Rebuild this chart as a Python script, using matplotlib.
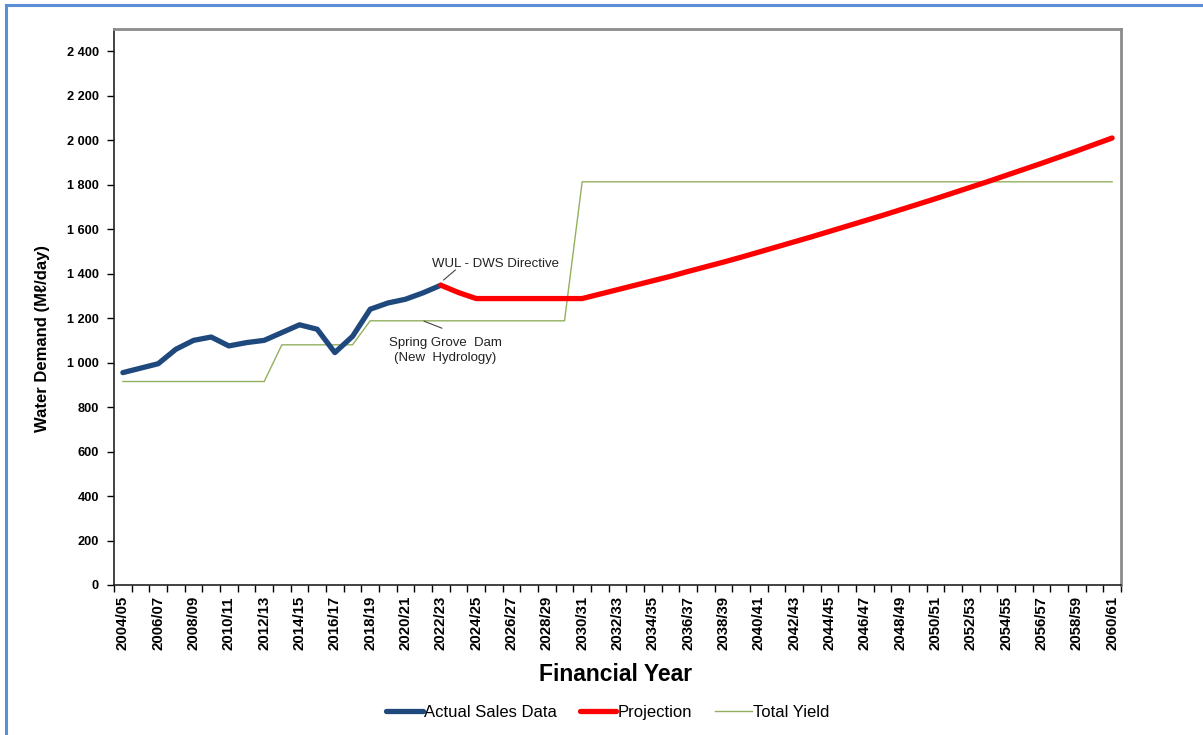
import numpy as np
import matplotlib
matplotlib.use('Agg')
import matplotlib.pyplot as plt
from matplotlib.lines import Line2D
from matplotlib.ticker import FuncFormatter, FixedLocator

plt.rcParams['font.family'] = ['Liberation Sans', 'DejaVu Sans']

#financial years 2004/05 .. 2060/61
years = [f"{y}/{(y + 1) % 100:02d}" for y in range(2004, 2061)]

#actual sales 2004/05 .. 2022/23
actual = [955, 975, 995, 1060, 1100, 1115, 1075, 1090, 1100, 1135,
          1170, 1150, 1045, 1118, 1240, 1268, 1285, 1314, 1348]

#projection 2022/23 .. 2060/61
projection = [1348, 1315, 1288, 1288, 1288, 1288, 1288, 1288, 1288,
              1308, 1328, 1348, 1368, 1388, 1410, 1431, 1452, 1474, 1497,
              1520, 1543, 1566, 1590, 1614, 1638, 1662, 1687, 1712, 1737,
              1763, 1789, 1815, 1842, 1869, 1896, 1924, 1952, 1981, 2010]

#total yield 2004/05 .. 2060/61
total_yield = [915] * 9 + [1080] * 5 + [1188] * 12 + [1813] * 31

x = np.arange(len(years))
x_actual = x[:len(actual)]
x_proj = x[len(actual) - 1:]

fig = plt.figure(figsize=(12.03, 7.35), dpi=100)
ax = fig.add_axes([0.0948, 0.2041, 0.8370, 0.7564])

ax.plot(x, total_yield, color='#93B05E', lw=1.0, label='Total Yield', zorder=2)
ax.plot(x_actual, actual, color='#1F497D', lw=3.8, solid_capstyle='round',
        solid_joinstyle='round', label='Actual Sales Data', zorder=3)
ax.plot(x_proj, projection, color='#FF0000', lw=3.8, solid_capstyle='round',
        solid_joinstyle='round', label='Projection', zorder=3)

ax.set_xlim(-0.5, len(years) - 0.5)
ax.set_ylim(0, 2500)

#y axis
ax.yaxis.set_major_locator(FixedLocator(np.arange(0, 2401, 200)))
ax.yaxis.set_major_formatter(FuncFormatter(lambda v, p: f"{int(v):,}".replace(',', ' ')))
ax.tick_params(axis='y', direction='out', length=5, width=1, pad=6, labelsize=9.2)
for t in ax.get_yticklabels():
    t.set_fontweight('bold')

#x axis: tick marks between categories, labels every other year
ax.set_xticks(x[::2])
ax.set_xticklabels(years[::2], rotation=90, fontsize=10.8, fontweight='bold')
ax.set_xticks(np.arange(-0.5, len(years), 1), minor=True)
ax.tick_params(axis='x', which='major', length=0, pad=8)
ax.tick_params(axis='x', which='minor', direction='out', length=5, width=1)

for s in ['left', 'bottom']:
    ax.spines[s].set_color('#222222')
    ax.spines[s].set_linewidth(1.2)
for s in ['top', 'right']:
    ax.spines[s].set_color('#8C8C8C')
    ax.spines[s].set_linewidth(2)

ax.set_ylabel('Water Demand (M\u2113/day)', fontsize=12, fontweight='bold')
ax.yaxis.set_label_coords(-0.0636, 0.444)
fig.text(0.512, 0.082, 'Financial Year', fontsize=16.5, fontweight='bold',
         ha='center', va='center')

#annotations
ax.text(17.5, 1443, 'WUL - DWS Directive', fontsize=9.5, ha='left', va='center', color='#222222')
ax.annotate('', xy=(18.03, 1363), xytext=(18.95, 1425),
            arrowprops=dict(arrowstyle='-', color='#444444', lw=0.8))
ax.text(18.27, 1054, 'Spring Grove  Dam\n(New  Hydrology)', fontsize=9.5, ha='center',
        va='center', linespacing=1.4, color='#222222')
ax.annotate('', xy=(16.9, 1191), xytext=(18.21, 1150),
            arrowprops=dict(arrowstyle='-', color='#444444', lw=0.8))

#legend
handles, labels = ax.get_legend_handles_labels()
order = [1, 2, 0]
fig.legend([handles[i] for i in order], [labels[i] for i in order],
           loc='center', bbox_to_anchor=(0.505, 0.031), ncol=3, frameon=False,
           fontsize=12, handlelength=2.2, handletextpad=0.05, columnspacing=1.4)

#blue frame on top and left
fig.add_artist(Line2D([0.0050, 0.0050], [0.0, 0.9932], color='#5B8ED6', lw=2.2,
                      transform=fig.transFigure))
fig.add_artist(Line2D([0.0050, 1.0], [0.9932, 0.9932], color='#5B8ED6', lw=2.2,
                      transform=fig.transFigure))

fig.savefig('out.png', dpi=100)
